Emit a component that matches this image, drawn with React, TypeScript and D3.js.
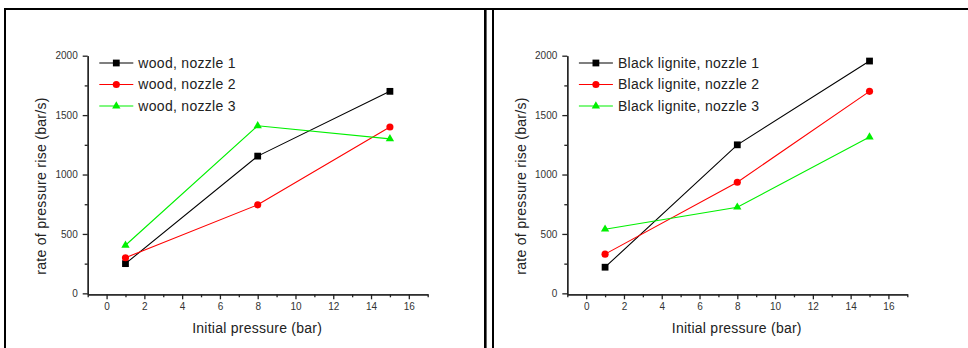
import React, {useEffect, useRef} from 'react';
import * as d3 from 'd3';

const pressure = [1, 8, 15];
const woodNozzle1 = [250, 1155, 1700];
const woodNozzle2 = [300, 745, 1400];
const woodNozzle3 = [405, 1410, 1300];
const ligniteNozzle1 = [220, 1250, 1955];
const ligniteNozzle2 = [330, 935, 1700];
const ligniteNozzle3 = [540, 725, 1315];
const xTicks = [0, 2, 4, 6, 8, 10, 12, 14, 16];
const xMinor = [-1, 1, 3, 5, 7, 9, 11, 13, 15, 17];
const yTicks = [0, 500, 1000, 1500, 2000];
const yMinor = [250, 750, 1250, 1750];
const woodNames = ['wood, nozzle 1', 'wood, nozzle 2', 'wood, nozzle 3'];
const ligniteNames = ['Black lignite, nozzle 1', 'Black lignite, nozzle 2', 'Black lignite, nozzle 3'];

const colors = ['#000000', '#ff0000', '#00f000'];
const shapes = [d3.symbolSquare, d3.symbolCircle, d3.symbolTriangle];
const sizes = [46, 40, 30];
const FONT = '"Liberation Sans", Arial, sans-serif';

const Panel = ({g, left, series, names}) => {
  useEffect(() => {
    const top = 55.7, bottom = 294.3;
    const x = d3.scaleLinear().domain([-1, 17]).range([left, left + 340]);
    const y = d3.scaleLinear().domain([-8, 2000]).range([bottom, top]);
    const root = d3.select(g.current);
    root.selectAll('*').remove();

    const styleAxis = a => {
      a.selectAll('path, line').attr('stroke', '#222').attr('stroke-width', 1.3);
      a.selectAll('text').attr('fill', '#333').attr('font-size', 10).attr('font-family', FONT);
    };

    root.append('g').attr('transform', `translate(0,${bottom})`)
      .call(d3.axisBottom(x).tickValues(xMinor).tickSize(3).tickSizeOuter(0).tickFormat(() => ''))
      .call(styleAxis);
    root.append('g').attr('transform', `translate(0,${bottom})`)
      .call(d3.axisBottom(x).tickValues(xTicks).tickSize(5).tickSizeOuter(0).tickPadding(3.5)
        .tickFormat(d3.format('d')))
      .call(styleAxis);
    root.append('g').attr('transform', `translate(${left},0)`)
      .call(d3.axisLeft(y).tickValues(yMinor).tickSize(3).tickSizeOuter(0).tickFormat(() => ''))
      .call(styleAxis);
    root.append('g').attr('transform', `translate(${left},0)`)
      .call(d3.axisLeft(y).tickValues(yTicks).tickSize(5).tickSizeOuter(0).tickPadding(5)
        .tickFormat(d3.format('d')))
      .call(styleAxis);

    const line = d3.line().x(d => x(d[0])).y(d => y(d[1]));
    series.forEach((vals, i) => {
      const pts = pressure.map((p, k) => [p, vals[k]]);
      root.append('path').datum(pts)
        .attr('fill', 'none').attr('stroke', colors[i]).attr('stroke-width', 1.1)
        .attr('d', line);
      root.selectAll(null).data(pts).enter().append('path')
        .attr('transform', d => `translate(${x(d[0])},${y(d[1])})`)
        .attr('d', d3.symbol(shapes[i], sizes[i]))
        .attr('fill', colors[i]);
    });

    // legend
    const lx = left + 11.6;
    const rows = [63, 84.5, 106];
    names.forEach((name, i) => {
      const lg = root.append('g').attr('transform', `translate(${lx},${rows[i]})`);
      lg.append('line').attr('x1', 0).attr('x2', 34).attr('stroke', colors[i]).attr('stroke-width', 1.1);
      lg.append('path').attr('transform', 'translate(17,0)')
        .attr('d', d3.symbol(shapes[i], sizes[i])).attr('fill', colors[i]);
      lg.append('text').attr('x', 39).attr('dy', '0.35em')
        .attr('font-size', 14).attr('font-family', FONT).attr('letter-spacing', 0.3)
        .attr('fill', '#222').text(name);
    });

    root.append('text')
      .attr('x', left + 169.5).attr('y', 328).attr('dy', '0.35em')
      .attr('text-anchor', 'middle').attr('font-size', 14).attr('font-family', FONT)
      .attr('letter-spacing', 0.25).attr('fill', '#222')
      .text('Initial pressure (bar)');
    root.append('text')
      .attr('transform', `translate(${left - 46.5},186) rotate(-90)`).attr('dy', '0.35em')
      .attr('text-anchor', 'middle').attr('font-size', 14).attr('font-family', FONT)
      .attr('letter-spacing', 0.3).attr('fill', '#222')
      .text('rate of pressure rise (bar/s)');
  }, [g, left, series, names]);
  return null;
};

export default function App() {
  const g1 = useRef(null);
  const g2 = useRef(null);
  return (
    <div style={{position: 'absolute', left: 0, top: 0}}>
      <svg width={968} height={348} style={{display: 'block', background: '#fff'}}>
        <rect x={0} y={0} width={968} height={348} fill="#fff"/>
        {/* frame */}
        <line x1={4} x2={968} y1={9} y2={9} stroke="#000" strokeWidth={2}/>
        <line x1={5} x2={5} y1={8} y2={348} stroke="#000" strokeWidth={2}/>
        <line x1={485.3} x2={485.3} y1={8} y2={348} stroke="#000" strokeWidth={2.6}/>
        <line x1={493} x2={493} y1={8} y2={348} stroke="#000" strokeWidth={2}/>
        <g ref={g1}/>
        <g ref={g2}/>
      </svg>
      <Panel g={g1} left={87.7} series={[woodNozzle1, woodNozzle2, woodNozzle3]} names={woodNames}/>
      <Panel g={g2} left={567.3} series={[ligniteNozzle1, ligniteNozzle2, ligniteNozzle3]} names={ligniteNames}/>
    </div>
  );
}
